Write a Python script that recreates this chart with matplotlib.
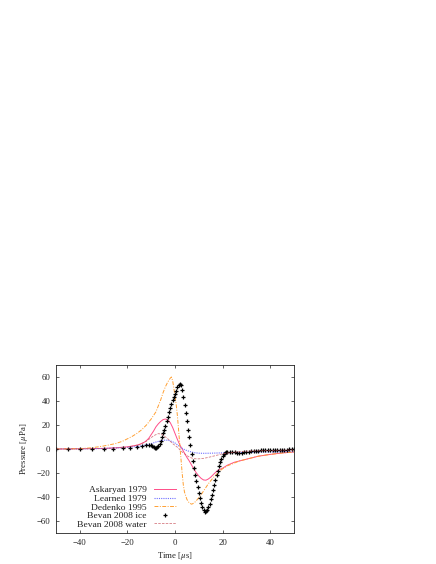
import matplotlib
matplotlib.use('Agg')
import matplotlib.pyplot as plt

plt.rcParams['font.family'] = ['Liberation Serif', 'DejaVu Serif']
plt.rcParams['mathtext.fontset'] = 'stix'

# Askaryan 1979
ask_t = [-50, -40, -30, -25, -20, -17, -15, -13, -12, -11, -10, -9, -8, -7, -6, -5, -4, -3, -2, -1,
         0, 1, 2, 3, 4, 5, 6, 7, 8, 9, 10, 11, 12, 13, 14, 15, 16, 17, 18, 20, 22, 25, 30, 35, 40, 45, 50]
ask_p = [0, 0.2, 0.5, 1, 1.8, 2.8, 3.8, 5.5, 7, 9, 12, 15, 18.5, 21, 23, 24.5, 25, 24, 22, 18,
         13, 8, 3.5, 0, -3.5, -7, -10, -13.5, -17, -20, -22.5, -24.5, -25.8, -26, -25, -23.5, -21.5,
         -19.5, -17.8, -16, -13.5, -11, -8.5, -6, -4.5, -3.3, -2.5]

# Learned 1979
lea_t = [-50, -40, -30, -25, -20, -15, -12, -10, -8, -6, -5, -4, -3, -2, -1, 0, 1, 2, 3, 4, 5, 6,
         8, 10, 12, 15, 20, 25, 30, 40, 50]
lea_p = [0, 0.1, 0.4, 0.8, 1.3, 2.3, 3.5, 4.5, 5.8, 6.8, 7.2, 7.4, 7.3, 6.8, 6, 5, 3.5, 2, 0.6,
         -0.5, -1.3, -2, -3, -3.5, -3.6, -3.5, -3.2, -3, -2.8, -2.5, -2.3]

# Dedenko 1995
ded_t = [-50, -40, -35, -30, -25, -22, -20, -18, -16, -14, -12, -10, -8, -6, -5, -4, -3, -2, -1.5,
         -1, -0.5, 0, 0.5, 1, 1.5, 2, 2.5, 3, 3.5, 4, 5, 6, 7, 8, 9, 10, 11, 12, 13, 14, 15, 16, 17,
         18, 19, 20, 22, 24, 27, 30, 35, 40, 45, 50]
ded_p = [0, 0.3, 1, 2.5, 4.5, 6.5, 8.5, 10.5, 13, 16, 20, 25, 31, 41, 47, 52, 56, 59, 60,
         57, 51, 44, 37, 28, 16, 4, -8, -20, -30, -36, -42, -45, -46, -45, -43, -40.5, -38, -35,
         -32, -29, -26.5, -24, -22, -20, -18, -16.5, -14, -12.5, -10, -8.5, -6, -4.5, -3.3, -2.5]

# Bevan 2008 ice
ice_t = [-50, -45, -40, -35, -30, -26, -22, -19, -16, -14, -12, -11, -10, -9.5, -9, -8.5, -8, -7.5,
         -7, -6.5, -6, -5.5, -5, -4.5, -4, -3.5, -3, -2.5, -2, -1.5, -1, -0.5, 0, 0.5, 1, 1.5, 2,
         2.5, 3, 3.5, 4, 4.5, 5, 5.5, 6, 6.5, 7, 7.5, 8, 8.5, 9, 9.5, 10, 10.5, 11, 11.5, 12, 12.5,
         13, 13.5, 14, 14.5, 15, 15.5, 16, 16.5, 17, 17.5, 18, 18.5, 19, 19.5, 20, 20.5, 21, 21.5,
         22, 23, 24, 25, 26, 27, 28, 29, 30, 31, 32, 33, 34, 35, 36, 37, 38, 39, 40, 41, 42, 43, 44,
         45, 46, 47, 48, 49, 50]
ice_p = [0, 0, 0, 0, 0.2, 0.4, 0.8, 1.2, 1.8, 2.5, 3.2, 3.3, 3, 2.5, 1.8, 1, 0.8, 1.3,
         2.5, 4.5, 7, 10, 13, 16, 19, 23, 27, 30.5, 34, 37.5, 40.5, 43, 45.5, 48.5, 51.5, 53.5, 54,
         53, 49.5, 43.5, 37, 30, 23, 16, 10, 3, -4, -10, -16, -21.5, -27, -32, -37, -41, -45, -48.5,
         -51, -52.5, -52, -50.5, -48, -45.5, -42, -38, -34, -30, -26, -22, -18, -14.5, -11, -8.5,
         -6, -4.5, -3.5, -2.8, -2.5, -2.3, -2.5, -2.8, -3, -3.2, -3, -2.8, -2.5, -2.3, -2, -1.8,
         -1.6, -1.4, -1.2, -1.1, -1, -0.9, -0.8, -0.8, -0.7, -0.7, -0.6, -0.6, -0.5, -0.5, -0.4,
         -0.4, -0.3]

# Bevan 2008 water
wat_t = [-50, -40, -30, -25, -20, -15, -12, -10, -9, -8, -7, -6, -5, -4, -3, -2, -1, 0, 1, 2, 3,
         4, 5, 6, 7, 8, 9, 10, 12, 14, 16, 18, 20, 25, 30, 40, 50]
wat_p = [0, 0.1, 0.4, 0.8, 1.5, 3.5, 6.5, 9.5, 11, 12, 12.8, 12.5, 11.5, 10, 8.5, 6.5, 4.5, 3,
         1.5, -0.5, -2.5, -4, -5.5, -6.7, -7.5, -8, -8.2, -8.2, -7.8, -7, -6, -5, -4, -2.6, -1.8,
         -1.2, -0.8]

fig = plt.figure(figsize=(4.36, 5.64), dpi=100)
ax = fig.add_axes([56 / 436, 1 - 533 / 564, 238 / 436, 168 / 564])

ax.plot(ask_t, ask_p, color='#ff4d88', lw=0.7, label='Askaryan 1979')
ax.plot(lea_t, lea_p, color='#6f6fff', lw=0.8, ls=(0, (1, 1)), label='Learned 1979')
ax.plot(ded_t, ded_p, color='#ffa033', lw=0.7, ls=(0, (4, 1.5, 1, 1.5)), label='Dedenko 1995')
ax.plot(ice_t, ice_p, ls='none', marker='+', ms=3.5, mew=0.9, color='black',
        label='Bevan 2008 ice')
ax.plot(wat_t, wat_p, color='#c8505a', lw=0.6, ls=(0, (3, 1.5)), alpha=0.75,
        label='Bevan 2008 water')

ax.set_xlim(-50, 50)
ax.set_ylim(-70, 70)
ax.set_xticks([-40, -20, 0, 20, 40])
ax.set_yticks([-60, -40, -20, 0, 20, 40, 60])
ax.tick_params(direction='in', top=True, right=True, length=2.5, width=0.5,
               labelsize=6.3, colors='#222222', pad=4)
for s in ax.spines.values():
    s.set_linewidth(0.6)
    s.set_color('#222222')

ax.set_xlabel(r'Time [$\mu$s]', fontsize=6.3, color='#222222', labelpad=2.5)
ax.set_ylabel(r'Pressure [$\mu$Pa]', fontsize=6.3, color='#222222', labelpad=5)

# markerfirst=False right-aligns the rows, like the original key
leg = ax.legend(loc='lower right', bbox_to_anchor=(0.505, 0.025), frameon=False,
                markerfirst=False, fontsize=6.8, handlelength=2.4, handletextpad=0.7,
                labelspacing=0.0, borderpad=0, borderaxespad=0)
for t in leg.get_texts():
    t.set_color('#222222')

fig.savefig('out.png', dpi=100)
